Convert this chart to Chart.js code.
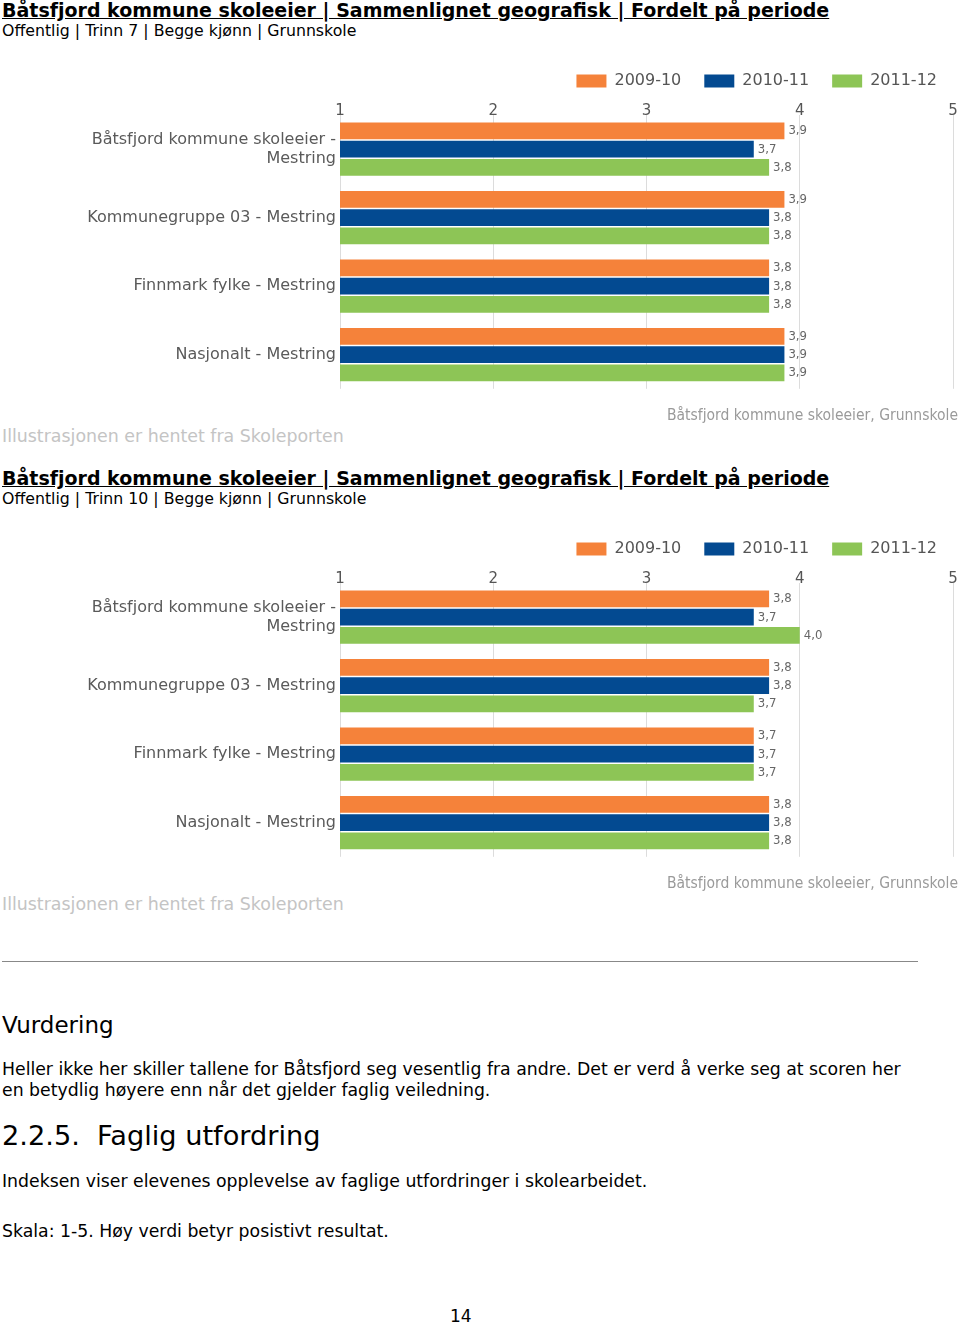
<!DOCTYPE html>
<html>
<head>
<meta charset="utf-8">
<script src="https://cdn.jsdelivr.net/npm/chart.js@4.4.0/dist/chart.umd.min.js"></script>
<style>
  body { margin: 0; background: #fff; font-family: "DejaVu Sans", Verdana, sans-serif; color: #000; }
  .page { position: relative; width: 960px; height: 1325px; overflow: hidden; }
  .abs { position: absolute; white-space: nowrap; }
  .title { font-weight: bold; font-size: 19px; text-decoration: underline; left: 2px; }
  .sub { font-size: 15.75px; left: 2px; }
  .source { font-size: 17.4px; color: #c4c4c4; left: 2px; }
  .owner { font-family: "DejaVu Sans Condensed", sans-serif; font-size: 15.5px; color: #9a9a9a; right: 2px; }
  .chartbox { position: absolute; left: 0; width: 960px; height: 370px; }
  .txt { font-size: 17.3px; left: 2px; }
</style>
</head>
<body>
<div class="page">
  <div class="abs title" style="top:-1px">Båtsfjord kommune skoleeier | Sammenlignet geografisk | Fordelt på periode</div>
  <div class="abs sub" style="top:21px">Offentlig | Trinn 7 | Begge kjønn | Grunnskole</div>
  <div class="chartbox" style="top:42px"><canvas id="chart7"></canvas></div>
  <div class="abs owner" style="top:406px">Båtsfjord kommune skoleeier, Grunnskole</div>
  <div class="abs source" style="top:426px">Illustrasjonen er hentet fra Skoleporten</div>

  <div class="abs title" style="top:467px">Båtsfjord kommune skoleeier | Sammenlignet geografisk | Fordelt på periode</div>
  <div class="abs sub" style="top:489px">Offentlig | Trinn 10 | Begge kjønn | Grunnskole</div>
  <div class="chartbox" style="top:510px"><canvas id="chart10"></canvas></div>
  <div class="abs owner" style="top:874px">Båtsfjord kommune skoleeier, Grunnskole</div>
  <div class="abs source" style="top:894px">Illustrasjonen er hentet fra Skoleporten</div>

  <div class="abs" style="top:961px; left:2px; width:916px; height:0; border-top:1px solid #888"></div>
  <div class="abs" style="top:1012px; left:2px; font-size:23px">Vurdering</div>
  <div class="abs txt" style="top:1059px">Heller ikke her skiller tallene for Båtsfjord seg vesentlig fra andre. Det er verd å verke seg at scoren her</div>
  <div class="abs txt" style="top:1080px">en betydlig høyere enn når det gjelder faglig veiledning.</div>
  <div class="abs" style="top:1120px; left:2px; font-size:27.2px">2.2.5.&nbsp; Faglig utfordring</div>
  <div class="abs txt" style="top:1171px">Indeksen viser elevenes opplevelse av faglige utfordringer i skolearbeidet.</div>
  <div class="abs txt" style="top:1221px">Skala: 1-5. Høy verdi betyr posistivt resultat.</div>
  <div class="abs" style="top:1306px; left:450px; font-size:17px">14</div>
</div>

<script>
// Kategorier og verdier lest av figuren
const categories = [
    ['Båtsfjord kommune skoleeier -', 'Mestring'],
    'Kommunegruppe 03 - Mestring',
    'Finnmark fylke - Mestring',
    'Nasjonalt - Mestring'
];
const periods = ['2009-10', '2010-11', '2011-12'];
const periodColors = ['#f5823a', '#034a91', '#8dc556'];

// Trinn 7
const trinn7_0910 = [3.9, 3.9, 3.8, 3.9];
const trinn7_1011 = [3.7, 3.8, 3.8, 3.9];
const trinn7_1112 = [3.8, 3.8, 3.8, 3.9];

// Trinn 10
const trinn10_0910 = [3.8, 3.8, 3.7, 3.8];
const trinn10_1011 = [3.7, 3.8, 3.7, 3.8];
const trinn10_1112 = [4.0, 3.7, 3.7, 3.8];

const xTicks = [1, 2, 3, 4, 5];

// Tallene til høyre for søylene
const valueLabels = {
    id: 'valueLabels',
    afterDatasetsDraw(chart) {
        const ctx = chart.ctx;
        ctx.save();
        ctx.font = '13px "DejaVu Sans Condensed", sans-serif';
        ctx.fillStyle = '#666';
        ctx.textBaseline = 'middle';
        ctx.textAlign = 'left';
        chart.data.datasets.forEach((ds, i) => {
            chart.getDatasetMeta(i).data.forEach((bar, j) => {
                ctx.fillText(ds.data[j].toFixed(1).replace('.', ','), bar.x + 4, bar.y);
            });
        });
        ctx.restore();
    }
};

function renderChart(id, series) {
    const ctx = document.getElementById(id).getContext('2d');
    new Chart(ctx, {
        type: 'bar',
        data: {
            labels: categories,
            datasets: periods.map((p, i) => ({
                label: p,
                data: series[i],
                backgroundColor: periodColors[i],
                borderWidth: 0,
                barPercentage: 0.92,
                categoryPercentage: 0.8
            }))
        },
        options: {
            indexAxis: 'y',
            responsive: true,
            maintainAspectRatio: false,
            animation: false,
            layout: { padding: { top: 8, right: 0, bottom: 6, left: 0 } },
            plugins: {
                legend: {
                    position: 'top',
                    align: 'end',
                    labels: {
                        boxWidth: 30,
                        boxHeight: 13,
                        padding: 23,
                        color: '#555',
                        font: { size: 16, family: '"DejaVu Sans", sans-serif' }
                    }
                },
                tooltip: { enabled: false }
            },
            scales: {
                x: {
                    position: 'top',
                    min: 1,
                    max: 5,
                    afterBuildTicks: (scale) => { scale.ticks = xTicks.map(v => ({ value: v })); },
                    afterFit: (scale) => { scale.height = 16; },
                    grid: { color: '#dcdcdc', drawTicks: false },
                    border: { display: false },
                    ticks: {
                        color: '#555',
                        padding: -5,
                        font: { size: 15, family: '"DejaVu Sans", sans-serif' }
                    }
                },
                y: {
                    afterFit: (scale) => { scale.width = 340; },
                    grid: { display: false, drawTicks: false },
                    border: { display: false },
                    ticks: {
                        color: '#5a5a5a',
                        padding: 4,
                        font: { size: 16, family: '"DejaVu Sans", sans-serif' }
                    }
                },
                // tom akse til høyre, holder litt luft etter 5
                spacer: {
                    type: 'linear',
                    position: 'right',
                    afterFit: (scale) => { scale.width = 7; },
                    ticks: { display: false },
                    grid: { display: false },
                    border: { display: false }
                }
            }
        },
        plugins: [valueLabels]
    });
}

renderChart('chart7', [trinn7_0910, trinn7_1011, trinn7_1112]);
renderChart('chart10', [trinn10_0910, trinn10_1011, trinn10_1112]);
</script>
</body>
</html>
